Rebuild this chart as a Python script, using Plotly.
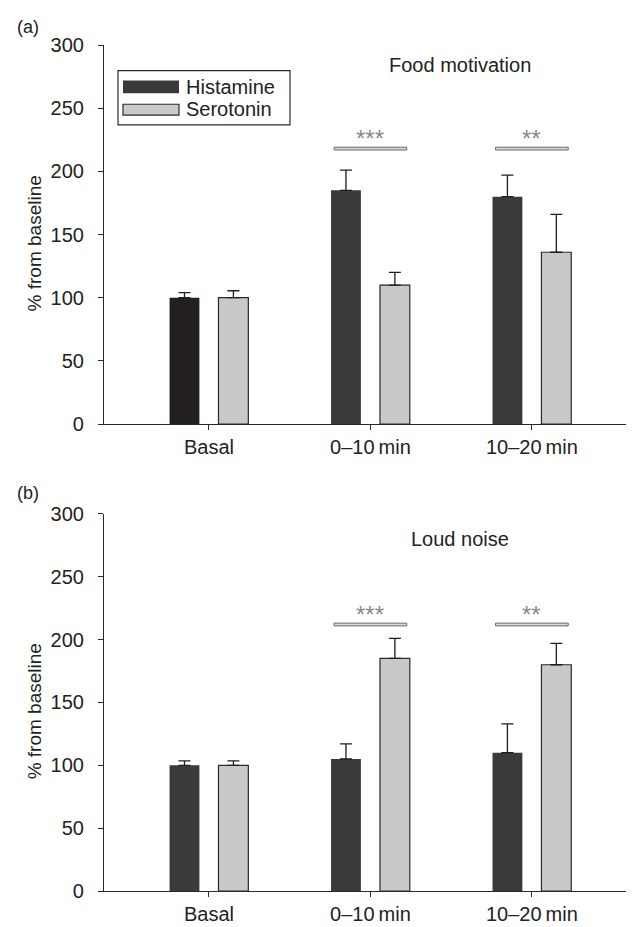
import plotly.graph_objects as go

# ---------------- data ----------------
categories = ["Basal", "0\u201310\u2009min", "10\u201320\u2009min"]

a_histamine = [100, 185, 180]
a_histamine_err = [4, 16, 17]
a_serotonin = [100, 110, 136]
a_serotonin_err = [5.5, 10, 30]

b_histamine = [100, 105, 110]
b_histamine_err = [3.5, 12, 23]
b_serotonin = [100, 185, 180]
b_serotonin_err = [3.5, 16, 17]

a_sig_cats = [1, 2]
a_sig_level = [218, 218]
a_sig_text = ["***", "**"]

b_sig_cats = [1, 2]
b_sig_level = [212, 212]
b_sig_text = ["***", "**"]

y_ticks = [0, 50, 100, 150, 200, 250, 300]
panel_titles = ["Food motivation", "Loud noise"]
panel_labels = ["(a)", "(b)"]
legend_names = ["Histamine", "Serotonin"]

# ---------------- style ----------------
W, H = 634, 927
L, R, T, B = 96, 10, 37, 33
PW, PH = W - L - R, H - T - B
FONT = "Liberation Sans, Arial, Helvetica, sans-serif"
FS = 20
HIST = "#3a3a3c"
HIST_BASAL_A = "#231f20"
SERO = "#c8c9cb"
EDGE = "#2a2a2a"


def px(x):
    return (x - L) / PW


def py(y):
    return (H - B - y) / PH


fig = go.Figure()

panels = [
    dict(xa="x", ya="y", hist=a_histamine, herr=a_histamine_err, sero=a_serotonin,
         serr=a_serotonin_err, hcol=[HIST_BASAL_A, HIST, HIST],
         sig_c=a_sig_cats, sig_y=a_sig_level, sig_t=a_sig_text),
    dict(xa="x2", ya="y2", hist=b_histamine, herr=b_histamine_err, sero=b_serotonin,
         serr=b_serotonin_err, hcol=[HIST, HIST, HIST],
         sig_c=b_sig_cats, sig_y=b_sig_level, sig_t=b_sig_text),
]

shapes = []
annotations = []

for p in panels:
    fig.add_trace(go.Bar(
        x=categories, y=p["hist"], xaxis=p["xa"], yaxis=p["ya"], name=legend_names[0],
        marker=dict(color=p["hcol"], line=dict(width=0)),
        error_y=dict(type="data", symmetric=False, array=p["herr"], arrayminus=[0, 0, 0],
                     color="#1e1e1e", thickness=1.3, width=6),
        showlegend=False,
    ))
    fig.add_trace(go.Bar(
        x=categories, y=p["sero"], xaxis=p["xa"], yaxis=p["ya"], name=legend_names[1],
        marker=dict(color=SERO, line=dict(width=1.2, color=EDGE)),
        error_y=dict(type="data", symmetric=False, array=p["serr"], arrayminus=[0, 0, 0],
                     color="#1e1e1e", thickness=1.3, width=6),
        showlegend=False,
    ))
    for c, yv, t in zip(p["sig_c"], p["sig_y"], p["sig_t"]):
        shapes.append(dict(type="rect", xref=p["xa"], yref=p["ya"],
                           x0=c - 0.225, x1=c + 0.225, y0=yv - 1.1, y1=yv + 1.1,
                           line=dict(color="#6a6a6a", width=1), fillcolor="#d8d8d8"))
        annotations.append(dict(xref=p["xa"], yref=p["ya"], x=c, y=yv + 20,
                                text=t, showarrow=False, yanchor="top",
                                font=dict(family=FONT, size=24, color="#8a8a8a")))

axis_common = dict(showline=True, linecolor="#2a2a2a", linewidth=1.2, ticks="outside",
                   ticklen=5, tickwidth=1.2, tickcolor="#2a2a2a", showgrid=False,
                   zeroline=False, tickfont=dict(family=FONT, size=FS, color="#222"))

fig.update_layout(
    width=W, height=H,
    margin=dict(l=L, r=R, t=T, b=B),
    paper_bgcolor="white", plot_bgcolor="white",
    barmode="group", bargap=0.394, bargroupgap=0.39,
    xaxis=dict(domain=[0, 1], anchor="y", type="category", range=[-0.65, 2.62], **axis_common),
    yaxis=dict(domain=[py(421), 1], anchor="x", range=[0, 300], tickvals=y_ticks,
               ticklabelstandoff=10, **axis_common),
    xaxis2=dict(domain=[0, 1], anchor="y2", type="category", range=[-0.65, 2.62], **axis_common),
    yaxis2=dict(domain=[0, py(512)], anchor="x2", range=[0, 300], tickvals=y_ticks,
                ticklabelstandoff=10, **axis_common),
    showlegend=False,
)

# y-axis titles, panel labels, panel titles
for yc in [238, 712]:
    annotations.append(dict(xref="paper", yref="paper", x=px(26), y=py(yc),
                            text="% from baseline", textangle=-90, showarrow=False,
                            xanchor="center", yanchor="middle",
                            font=dict(family=FONT, size=19, color="#222")))
for lab, yc in zip(panel_labels, [19, 491]):
    annotations.append(dict(xref="paper", yref="paper", x=px(7), y=py(yc),
                            text=lab, showarrow=False, xanchor="left", yanchor="middle",
                            font=dict(family=FONT, size=18, color="#222")))
for ttl, yc in zip(panel_titles, [57, 537]):
    annotations.append(dict(xref="paper", yref="paper", x=px(452), y=py(yc),
                            text=ttl, showarrow=False, xanchor="center", yanchor="middle",
                            font=dict(family=FONT, size=FS, color="#222")))

# manual legend (panel a)
shapes.append(dict(type="rect", xref="paper", yref="paper",
                   x0=px(110), x1=px(282), y0=py(118), y1=py(63),
                   line=dict(color="#2a2a2a", width=1.2), fillcolor="white"))
shapes.append(dict(type="rect", xref="paper", yref="paper",
                   x0=px(115), x1=px(171), y0=py(86), y1=py(73),
                   line=dict(color=HIST, width=0), fillcolor=HIST))
shapes.append(dict(type="rect", xref="paper", yref="paper",
                   x0=px(115), x1=px(171), y0=py(108), y1=py(97),
                   line=dict(color=EDGE, width=1.2), fillcolor=SERO))
for name, yc in zip(legend_names, [80, 102]):
    annotations.append(dict(xref="paper", yref="paper", x=px(176), y=py(yc),
                            text=name, showarrow=False, xanchor="left", yanchor="middle",
                            font=dict(family=FONT, size=FS, color="#222")))

fig.update_layout(shapes=shapes, annotations=annotations)
fig.write_html("out.html")
